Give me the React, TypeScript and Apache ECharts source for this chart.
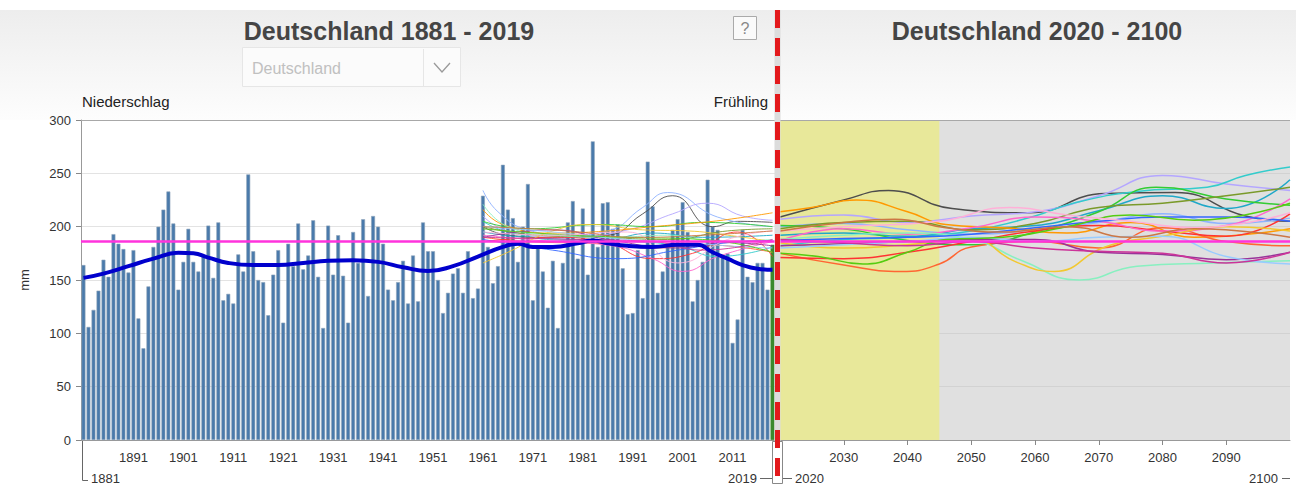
import React, { useEffect, useRef } from "react";
import * as echarts from "echarts";

// ---------- data ----------
const YEARS: string[] = Array.from({ length: 139 }, (_, i) => String(1881 + i));

// Spring precipitation Germany (mm), 1881 - 2019
const PRECIP: number[] = [
  164, 106, 122, 140, 169, 153, 193, 184, 179, 157,
  178, 114, 86, 144, 181, 200, 216, 233, 203, 141,
  167, 198, 167, 158, 172, 201, 152, 204, 131, 137,
  128, 174, 158, 249, 177, 150, 148, 117, 155, 178,
  110, 184, 163, 203, 160, 173, 206, 153, 105, 201,
  155, 192, 154, 110, 195, 166, 207, 135, 210, 200,
  184, 141, 131, 148, 168, 128, 173, 130, 204, 177,
  177, 150, 119, 138, 156, 161, 138, 177, 133, 142,
  229, 181, 147, 163, 258, 216, 208, 167, 200, 240,
  131, 181, 158, 124, 168, 105, 166, 204, 224, 170,
  217, 155, 280, 181, 222, 223, 198, 202, 161, 118,
  119, 178, 133, 261, 219, 138, 158, 181, 197, 207,
  223, 195, 130, 150, 167, 244, 200, 197, 172, 175,
  91, 113, 197, 153, 148, 166, 166, 141, 183,
];

// Smoothed historical course (year, mm)
const SMOOTH_HIST: [number, number][] = [
  [1881, 152], [1885, 156], [1890, 163], [1895, 170], [1900, 175.5], [1903, 175],
  [1906, 171], [1910, 166], [1915, 164], [1920, 164], [1925, 166], [1930, 168],
  [1935, 168.5], [1940, 167], [1945, 162], [1950, 158.5], [1955, 163], [1960, 172],
  [1965, 181], [1968, 184], [1971, 181], [1975, 181], [1980, 184.5], [1983, 187],
  [1986, 184.5], [1990, 182], [1995, 181], [2000, 183], [2004, 183], [2007, 176],
  [2010, 170], [2013, 164], [2016, 160.5], [2019, 159.5],
];

const REF_MEAN = 186; // 1961-1990 reference

// Model projections (year, mm)
const proj01: [number, number][] = [[1961,200],[1966,192],[1975,190],[1986,192],[1993,212],[1999,229],[2007,200],[2012,205],[2019,204],[2020,209],[2030,225],[2037,234],[2047,217],[2059,213],[2071,231],[2082,232],[2093,210],[2100,205]];
const proj02: [number, number][] = [[1961,234],[1964,214],[1970,197],[1978,192],[1986,196],[1993,218],[1998,232],[2008,209],[2019,200],[2020,200],[2030,203],[2040,197],[2050,193],[2060,197],[2070,204],[2080,212],[2090,203],[2100,208]];
const proj03: [number, number][] = [[1961,210],[1966,196],[1978,190],[1990,197],[1999,212],[2006,222],[2013,210],[2019,206],[2020,207],[2030,211],[2040,204],[2050,210],[2060,214],[2070,229],[2080,248],[2090,240],[2100,234]];
const proj04: [number, number][] = [[1961,205],[1966,195],[1978,187],[1990,186],[2000,182],[2008,172],[2019,181],[2020,182],[2030,188],[2040,190],[2050,196],[2060,210],[2066,222],[2076,233],[2087,237],[2093,248],[2100,256]];
const proj05: [number, number][] = [[1961,195],[1970,190],[1985,188],[1995,194],[2005,190],[2019,192],[2020,192],[2030,194],[2040,191],[2050,198],[2060,201],[2070,215],[2080,229],[2090,217],[2100,244]];
const proj06: [number, number][] = [[1961,205],[1970,198],[1985,202],[1995,200],[2005,204],[2019,200],[2020,201],[2030,198],[2040,187],[2050,183],[2060,195],[2070,214],[2079,237],[2090,226],[2100,220]];
const proj07: [number, number][] = [[1961,200],[1972,192],[1985,190],[1998,188],[2010,196],[2019,198],[2020,198],[2030,204],[2040,205],[2050,197],[2060,203],[2070,218],[2080,222],[2090,229],[2100,237]];
const proj08: [number, number][] = [[1961,216],[1965,202],[1975,194],[1986,196],[1995,200],[2005,204],[2012,208],[2019,213],[2020,214],[2025,218],[2032,225],[2040,214],[2046,202],[2055,199],[2065,194],[2075,204],[2085,190],[2100,198]];
const proj09: [number, number][] = [[1961,190],[1970,186],[1985,184],[1995,180],[2005,183],[2019,176],[2020,175],[2030,164],[2039,158],[2045,165],[2050,181],[2060,186],[2070,180],[2080,199],[2090,186],[2100,182]];
const proj10: [number, number][] = [[1961,186],[1975,190],[1985,186],[1995,170],[2003,175],[2012,195],[2019,172],[2020,171],[2030,170],[2040,176],[2050,186],[2060,196],[2070,201],[2080,196],[2090,191],[2100,212]];
const proj11: [number, number][] = [[1961,192],[1975,186],[1987,182],[1995,170],[2001,158],[2008,172],[2019,186],[2020,187],[2030,198],[2040,193],[2050,199],[2060,209],[2070,205],[2080,196],[2090,201],[2100,226]];
const proj12: [number, number][] = [[1961,221],[1966,200],[1975,192],[1987,190],[1998,192],[2008,186],[2019,188],[2020,188],[2030,192],[2040,194],[2050,188],[2058,168],[2067,150],[2076,163],[2088,166],[2100,168]];
const proj13: [number, number][] = [[1961,166],[1966,176],[1975,196],[1983,202],[1993,197],[2002,196],[2010,192],[2019,186],[2020,185],[2030,180],[2040,183],[2050,188],[2057,167],[2063,158],[2071,181],[2080,191],[2090,200],[2100,196]];
const proj14: [number, number][] = [[1961,190],[1975,197],[1986,188],[2000,180],[2010,185],[2019,182],[2020,182],[2030,184],[2040,186],[2050,188],[2060,188],[2070,176],[2080,174],[2090,169],[2100,176]];
const proj15: [number, number][] = [[1961,188],[1975,178],[1988,170],[2000,178],[2010,185],[2019,187],[2020,187],[2030,189],[2040,190],[2050,193],[2060,199],[2070,205],[2080,209],[2090,209],[2100,205]];
const proj16: [number, number][] = [[1961,200],[1975,195],[1990,188],[2000,186],[2010,182],[2019,180],[2020,180],[2030,183],[2040,186],[2050,190],[2060,186],[2070,190],[2080,191],[2090,172],[2100,165]];
const proj17: [number, number][] = [[1961,198],[1975,193],[1990,190],[2005,188],[2019,176],[2020,175],[2026,172],[2033,165],[2040,176],[2046,188],[2055,190],[2065,200],[2075,211],[2085,206],[2100,222]];
const proj18: [number, number][] = [[1961,195],[1975,192],[1990,195],[2000,166],[2010,188],[2019,196],[2020,196],[2030,200],[2045,205],[2056,218],[2065,211],[2075,205],[2085,199],[2100,213]];
const proj19: [number, number][] = [[1961,190],[1980,188],[1995,186],[2005,178],[2019,188],[2020,188],[2030,185],[2040,182],[2050,186],[2060,180],[2070,177],[2080,175],[2090,166],[2100,176]];
const proj20: [number, number][] = [[1961,200],[1978,196],[1992,190],[2005,192],[2019,196],[2020,196],[2030,204],[2038,207],[2046,199],[2055,195],[2065,200],[2075,190],[2085,198],[2100,190]];

const PROJ_COLORS: string[] = [
  "#4d4d4d", "#8fb3ff", "#b4a6ff", "#33cccc", "#1fa8c8",
  "#33cc33", "#7a9a2a", "#ff9900", "#ff6633", "#ff3333",
  "#ff66cc", "#88f0c0", "#f2c830", "#993399", "#3366ff",
  "#99ccff", "#55cc11", "#ffb0d8", "#cc3399", "#cc7744",
];
const PROJ: [number, number][][] = [
  proj01, proj02, proj03, proj04, proj05, proj06, proj07, proj08, proj09, proj10,
  proj11, proj12, proj13, proj14, proj15, proj16, proj17, proj18, proj19, proj20,
];

const FUTURE_START = 2020;
const FUTURE_END = 2100;
const NEAR_END = 2045;

const FF = '"Liberation Sans", Arial, Helvetica, sans-serif';

export default function App() {
  const ref = useRef<HTMLDivElement>(null);

  useEffect(() => {
    if (!ref.current) return;
    const chart = echarts.init(ref.current, null, { renderer: "svg" });

    const series: any[] = [];
    series.push({
      type: "bar",
      xAxisIndex: 0,
      yAxisIndex: 0,
      silent: true,
      barCategoryGap: "22%",
      itemStyle: { color: "#4a7aab", borderColor: "#8ea4bb", borderWidth: 0.6 },
      data: PRECIP.map((v, i) =>
        i === PRECIP.length - 1
          ? { value: v, itemStyle: { color: "#3b8a2e", borderColor: "#3b8a2e" } }
          : v
      ),
      z: 2,
    });

    // background band (near future) in future grid
    series.push({
      type: "line",
      xAxisIndex: 1,
      yAxisIndex: 1,
      data: [],
      silent: true,
      z: 1,
      markArea: {
        silent: true,
        itemStyle: { color: "#e8e89a", opacity: 1 },
        data: [[{ xAxis: FUTURE_START }, { xAxis: NEAR_END }]],
      },
    });

    PROJ.forEach((pts, k) => {
      series.push({
        type: "line",
        xAxisIndex: 0,
        yAxisIndex: 0,
        silent: true,
        smooth: 0.5,
        symbol: "none",
        z: 3,
        lineStyle: { color: PROJ_COLORS[k], width: 1, opacity: 0.9 },
        data: pts.filter((d) => d[0] <= 2019).map((d) => [String(d[0]), d[1]]),
      });
      series.push({
        type: "line",
        xAxisIndex: 1,
        yAxisIndex: 1,
        silent: true,
        smooth: 0.5,
        symbol: "none",
        z: 3,
        lineStyle: { color: PROJ_COLORS[k], width: 1.5 },
        data: pts.filter((d) => d[0] >= FUTURE_START),
      });
    });

    series.push({
      type: "line",
      xAxisIndex: 0,
      yAxisIndex: 0,
      silent: true,
      smooth: 0.5,
      symbol: "none",
      z: 4,
      lineStyle: { color: "#0000cc", width: 4 },
      data: SMOOTH_HIST.map((d) => [String(d[0]), d[1]]),
    });

    [0, 1].forEach((g) => {
      series.push({
        type: "line",
        xAxisIndex: g,
        yAxisIndex: g,
        data: [],
        silent: true,
        z: 5,
        markLine: {
          silent: true,
          symbol: "none",
          label: { show: false },
          lineStyle: { color: "#ff33dd", width: 2.5, type: "solid" },
          data: [{ yAxis: REF_MEAN }],
        },
      });
    });

    const decadeFn = (_i: number, v: string) => {
      const y = Number(v);
      return y % 10 === 1 && y > 1881;
    };

    const txt = (text: string, x: number, y: number, size: number, align: string, fill = "#333", weight = "normal") => ({
      type: "text",
      x,
      y,
      z: 50,
      silent: true,
      style: {
        text,
        fill,
        fontSize: size,
        fontFamily: FF,
        fontWeight: weight,
        align,
        verticalAlign: "middle",
        textAlign: align,
        textVerticalAlign: "middle",
      },
    });
    const ln = (x1: number, y1: number, x2: number, y2: number, stroke: string, w = 1, extra: any = {}) => ({
      type: "line",
      silent: true,
      z: 50,
      shape: { x1, y1, x2, y2 },
      style: { stroke, lineWidth: w, ...extra },
    });

    const graphic: any[] = [
      {
        type: "rect",
        silent: true,
        z: -5,
        shape: { x: 0, y: 10, width: 1296, height: 110 },
        style: {
          fill: new echarts.graphic.LinearGradient(0, 0, 0, 1, [
            { offset: 0, color: "#ededed" },
            { offset: 1, color: "#fdfdfd" },
          ]),
        },
      },
      ln(81, 120.5, 1290, 120.5, "#a8a8a8", 1),
      txt("Deutschland 1881 - 2019", 389, 31, 25, "center", "#454545", "bold"),
      txt("Deutschland 2020 - 2100", 1037, 31, 25, "center", "#454545", "bold"),
      // help box
      {
        type: "rect",
        silent: true,
        z: 50,
        shape: { x: 733.5, y: 16.5, width: 23, height: 23 },
        style: { fill: "#fafafa", stroke: "#aaaaaa", lineWidth: 1 },
      },
      txt("?", 745, 28, 16, "center", "#888"),
      // dropdown
      {
        type: "rect",
        silent: true,
        z: 50,
        shape: { x: 242.5, y: 47.5, width: 218, height: 39 },
        style: { fill: "#fbfbfb", stroke: "#e6e6e6", lineWidth: 1 },
      },
      txt("Deutschland", 252, 68, 16, "left", "#c0c0c0"),
      ln(423.5, 49, 423.5, 86, "#e6e6e6", 1),
      {
        type: "polyline",
        silent: true,
        z: 50,
        shape: { points: [[434, 63], [442, 72], [450, 63]] },
        style: { stroke: "#9a9a9a", lineWidth: 1.3, fill: "none" },
      },
      txt("Niederschlag", 82, 101, 15, "left", "#222"),
      txt("Frühling", 768, 101, 15, "right", "#222"),
      // bottom range markers
      ln(82.5, 441, 82.5, 480.5, "#666", 1),
      ln(82.5, 480.5, 88, 480.5, "#666", 1),
      txt("1881", 91, 478, 13, "left"),
      txt("2019", 757, 478, 13, "right"),
      ln(760, 478.5, 772, 478.5, "#666", 1),
      ln(783, 478.5, 792, 478.5, "#666", 1),
      txt("2020", 795, 478, 13, "left"),
      txt("2100", 1278, 478, 13, "right"),
      ln(1282, 478.5, 1290, 478.5, "#666", 1),
      // divider
      ln(777.5, 10, 777.5, 484, "#dcdcdc", 6),
      {
        type: "rect",
        silent: true,
        z: 60,
        shape: { x: 772.5, y: 441.5, width: 10, height: 42 },
        style: { fill: "#ffffff", stroke: "#888888", lineWidth: 1 },
      },
      { ...ln(777.5, 10, 777.5, 484, "#e3191c", 5, { lineDash: [18, 10] }), z: 70 },
    ];

    chart.setOption({
      animation: false,
      backgroundColor: "#ffffff",
      textStyle: { fontFamily: FF },
      grid: [
        { left: 81, top: 120, width: 694, height: 320, containLabel: false },
        {
          left: 780,
          top: 120,
          width: 510,
          height: 320,
          containLabel: false,
          show: true,
          backgroundColor: "#e0e0e0",
          borderWidth: 0,
        },
      ],
      xAxis: [
        {
          type: "category",
          gridIndex: 0,
          data: YEARS,
          boundaryGap: true,
          axisLine: { lineStyle: { color: "#999", width: 1 } },
          axisTick: { alignWithLabel: true, interval: decadeFn, length: 5, lineStyle: { color: "#888" } },
          axisLabel: { interval: decadeFn, fontSize: 13, color: "#333", margin: 11, fontFamily: FF },
          splitLine: { show: false },
        },
        {
          type: "value",
          gridIndex: 1,
          min: FUTURE_START,
          max: FUTURE_END,
          interval: 10,
          axisLine: { lineStyle: { color: "#999", width: 1 } },
          axisTick: { length: 5, lineStyle: { color: "#888" } },
          axisLabel: {
            fontSize: 13,
            color: "#333",
            margin: 11,
            fontFamily: FF,
            showMinLabel: false,
            showMaxLabel: false,
            formatter: (v: number) => String(v),
          },
          splitLine: { show: false },
        },
      ],
      yAxis: [
        {
          type: "value",
          gridIndex: 0,
          min: 0,
          max: 300,
          interval: 50,
          name: "mm",
          nameLocation: "middle",
          nameRotate: 90,
          nameGap: 50,
          nameTextStyle: { fontSize: 13, color: "#333", fontFamily: FF },
          axisLine: { show: true, lineStyle: { color: "#999" } },
          axisTick: { show: true, length: 5, lineStyle: { color: "#888" } },
          axisLabel: { fontSize: 13, color: "#333", margin: 10, fontFamily: FF },
          splitLine: { lineStyle: { color: "#e3e3e3", width: 1 } },
        },
        {
          type: "value",
          gridIndex: 1,
          min: 0,
          max: 300,
          interval: 50,
          axisLine: { show: false },
          axisTick: { show: false },
          axisLabel: { show: false },
          splitLine: { lineStyle: { color: "#d2d2d2", width: 1 } },
        },
      ],
      series,
      graphic,
    });

    return () => chart.dispose();
  }, []);

  return (
    <div
      ref={ref}
      style={{ position: "absolute", left: 0, top: 0, width: 1296, height: 484 }}
    />
  );
}
